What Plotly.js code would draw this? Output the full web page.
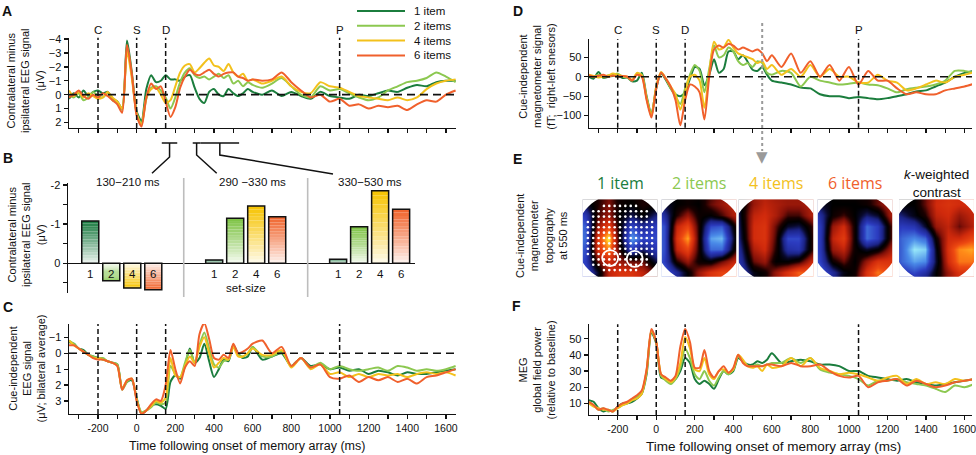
<!DOCTYPE html>
<html><head><meta charset="utf-8">
<script src="https://cdn.plot.ly/plotly-3.0.1.min.js"></script>
<style>html,body{margin:0;padding:0;background:#fff}#chart{width:976px;height:455px}</style>
</head><body><div id="chart"></div>
<script>
// ---------------- DATA ----------------
const timeMs = [-350,-325,-300,-275,-250,-225,-200,-175,-150,-125,-100,-75,
 -50,-25,0,25,50,75,100,125,150,175,200,225,
 250,275,300,325,350,375,400,425,450,475,500,525,
 550,575,600,650,700,750,800,850,900,950,1000,
 1050,1100,1150,1200,1250,1300,1350,1400,1450,1500,1550,1600,1650];

const seriesNames = ['1 item','2 items','4 items','6 items'];
const seriesColors = ['#1b7d3d','#8cc850','#f3c11c','#f0602c'];

// A: contralateral minus ipsilateral EEG (µV)
const latEEG1 = [0.3,-0.1,0.2,-0.3,0.1,-0.2,-0.3,-0.1,-0.2,0.3,0.5,1.0,
 -3.9,-1.6,1.2,1.9,-0.4,-1.4,-0.9,-1.0,-1.4,-1.1,-1.1,-1.0,
 -1.3,-1.4,-0.5,0.3,0.6,-0.2,-0.4,0.0,0.1,-0.4,-0.1,0.1,
 -0.1,-0.4,-0.2,0.0,-0.3,0.1,-0.2,0.1,0.3,-0.2,0.1,
 0.2,0.3,0.0,0.1,-0.1,-0.3,-0.2,-0.5,-0.7,-0.6,-0.9,-1.0,-1.0];
const latEEG2 = [0.0,0.2,-0.1,0.4,0.2,-0.2,0.1,0.2,-0.1,0.4,0.6,1.1,
 -3.5,-1.4,1.3,2.1,0.3,-0.5,-0.6,-0.3,0.2,1.0,0.2,-0.9,
 -1.6,-1.9,-1.4,-1.2,-1.3,-1.1,-1.3,-1.5,-1.2,-1.4,-0.8,-1.0,
 -0.6,-0.9,-0.7,-0.5,-0.8,-1.2,-0.6,0.0,0.2,-0.6,-0.3,
 -0.4,-0.1,0.2,0.4,0.2,-0.3,-0.6,-0.9,-1.0,-1.2,-1.6,-1.3,-0.9];
const latEEG4 = [-0.3,0.1,-0.2,0.2,-0.1,0.1,0.3,0.2,-0.2,0.2,0.5,1.0,
 -3.1,-1.2,1.4,2.2,0.2,-0.4,-0.5,0.0,0.6,0.4,-0.6,-1.6,
 -2.1,-2.2,-1.6,-1.9,-2.3,-2.6,-2.1,-2.0,-1.7,-2.2,-1.6,-1.3,
 -1.5,-1.0,-1.1,-0.8,-1.0,-1.3,-0.6,-0.2,-0.1,-0.9,-0.6,
 -0.5,-0.2,0.1,0.2,0.3,0.4,0.2,0.4,0.2,-0.4,-0.8,-1.0,-1.1];
const latEEG6 = [0.2,0.0,-0.3,0.1,0.3,0.0,0.2,-0.1,0.1,0.4,0.7,1.3,
 -3.6,-1.5,1.5,2.3,0.2,-0.8,-0.4,-0.6,0.5,1.6,0.9,-0.5,
 -1.3,-1.8,-1.5,-1.4,-1.6,-1.8,-1.5,-1.3,-1.5,-1.6,-1.6,-1.3,
 -1.2,-1.0,-1.1,-1.0,-1.1,-1.6,-0.9,-0.3,0.2,0.0,0.5,
 0.3,0.8,0.7,1.0,0.8,0.9,0.8,1.1,0.7,0.4,0.5,0.0,-0.3];

// C: cue-independent EEG (µV; bilateral average)
const bilatEEG1 = [-0.7,-0.6,-0.3,-0.2,0.1,0.2,0.3,0.4,0.5,0.6,0.7,2.2,
 1.8,1.7,2.8,3.8,3.6,3.3,3.2,3.3,3.5,1.8,1.4,1.6,
 0.8,-0.3,0.6,0.3,-0.6,0.5,1.5,1.0,0.4,0.5,-0.5,0.0,
 0.3,0.2,-0.4,0.4,0.2,0.0,0.8,0.3,0.8,0.7,1.0,
 0.9,1.1,1.0,1.3,1.1,1.2,1.4,1.2,1.3,1.3,1.2,1.1,1.0];
const bilatEEG2 = [-0.8,-0.6,-0.3,-0.1,0.1,0.2,0.3,0.3,0.5,0.6,0.7,2.3,
 1.8,1.6,2.9,3.7,3.6,3.4,3.1,3.2,3.1,0.8,1.3,1.5,
 0.6,-0.2,0.6,-0.5,-1.3,-0.3,0.7,0.9,0.5,0.4,-0.5,0.1,
 0.2,0.0,-0.4,0.2,0.2,-0.1,0.8,0.3,0.9,0.6,1.0,
 0.8,1.0,1.1,1.0,0.9,1.1,0.8,0.9,1.1,1.0,1.1,1.0,0.8];
const bilatEEG4 = [-0.8,-0.5,-0.3,-0.1,0.1,0.3,0.3,0.4,0.5,0.6,0.8,2.2,
 1.7,1.6,2.9,3.8,3.6,3.3,3.0,3.1,2.8,0.3,1.4,1.5,
 0.8,0.2,0.6,-0.4,-1.0,0.0,0.9,0.6,0.3,0.4,-0.4,0.2,
 0.2,0.0,-0.3,0.1,0.1,-0.2,0.9,0.3,1.0,0.7,1.3,
 1.2,1.5,1.3,1.5,1.3,1.4,1.3,1.5,1.3,1.2,1.3,1.2,1.4];
const bilatEEG6 = [-0.5,-0.5,-0.3,-0.1,0.1,0.3,0.4,0.4,0.5,0.6,0.8,2.3,
 1.7,1.6,3.0,3.8,3.6,3.2,2.9,3.0,2.0,-0.2,1.0,1.9,
 0.9,0.5,0.8,-1.2,-1.9,-0.9,0.3,0.4,0.1,0.3,-0.6,0.0,
 -0.1,-0.3,-0.6,-0.8,0.0,-0.4,0.8,0.3,0.9,0.7,1.5,
 1.6,1.4,1.8,1.5,1.7,1.5,1.8,1.6,1.9,1.5,1.4,1.2,1.0];

// D: cue-independent magnetometer signal (fT; right-left sensors)
const megDiff1 = [0,-5,12,-3,0,2,3,-3,-2,-12,-10,10,
 -50,-95,-30,8,-8,-30,-45,-50,-40,-5,25,20,
 -22,5,45,10,20,65,65,45,55,38,18,15,
 25,5,-10,-15,-20,-28,-30,-45,-50,-50,-55,
 -52,-55,-58,-55,-50,-45,-38,-35,-25,-15,0,10,15];
const megDiff2 = [2,0,5,-2,3,5,8,0,-2,-10,8,5,
 -55,-100,-25,10,-5,-30,-50,-70,-30,5,30,15,
 -40,20,80,50,55,75,65,40,30,35,25,40,
 35,10,5,15,10,-25,0,-10,-15,-20,-18,
 -15,-20,-22,-30,-40,-32,-28,-25,-20,-10,15,15,10];
const megDiff4 = [5,2,-2,0,3,8,5,2,0,-8,10,3,
 -55,-100,-25,12,-5,-25,-45,-85,-40,0,5,-10,
 -80,10,90,70,75,95,75,60,55,50,45,35,
 40,20,30,5,20,0,30,0,20,0,0,
 -15,-15,5,-10,-15,-35,-30,-20,-10,-15,0,5,12];
const megDiff6 = [3,0,2,5,0,3,0,2,0,-10,5,0,
 -60,-105,-30,10,-5,-25,-60,-125,-60,-20,-25,-40,
 -110,0,70,80,75,85,80,70,75,70,65,70,
 60,40,55,25,60,10,40,0,30,-10,25,
 -20,15,-10,-10,-30,-45,-40,-45,-45,-35,-30,-25,-18];

// F: MEG global field power (relative to baseline)
const megGFP1 = [12,11,7,5,6,5,8,10,10,11,13,16,
 28,54,47,26,25,23,25,30,38,35,25,22,
 24,22,19,25,30,28,30,38,36,34,34,36,
 35,37,41,35,36,37,36,34,34,33,30,
 30,27,26,25,24,25,23,22,21,22,23,24,25];
const megGFP2 = [11,9,6,7,5,6,7,9,10,12,14,17,
 30,55,48,27,24,22,25,32,44,38,28,25,
 30,24,21,26,30,28,31,39,36,33,33,34,
 33,34,35,35,38,35,38,31,29,28,27,
 25,21,24,24,25,23,22,21,19,17,21,20,22];
const megGFP4 = [10,8,7,6,6,5,7,9,10,12,13,16,
 30,55,48,28,25,23,26,35,51,44,31,30,
 38,28,25,30,31,29,31,40,37,33,32,33,
 30,34,32,33,38,33,38,32,30,28,29,
 28,26,24,26,27,22,25,22,23,22,25,24,25];
const megGFP6 = [11,9,6,7,6,5,8,10,11,13,15,18,
 31,56,48,28,26,24,27,45,56,48,32,32,
 43,30,26,30,33,29,32,40,35,33,33,33,
 33,34,34,33,35,33,33,34,30,27,26,
 27,20,23,24,25,21,24,22,20,21,23,24,25];

// Event markers (ms): cue, sample, delay, probe
const eventTimes = [-200, 0, 150, 1050];
const eventLabels = ['C','S','D','P'];

// B: mean lateralised amplitude per window and set size
const setSizes = ['1','2','4','6'];
const windowLabels = ['130\u2212210 ms','290 \u2212330 ms','330\u2212530 ms'];
const windowRanges = [[130,210],[290,330],[330,530]];
const barWin1 = [-1.08, 0.45, 0.63, 0.68];
const barWin2 = [-0.08, -1.15, -1.46, -1.19];
const barWin3 = [-0.10, -0.93, -1.85, -1.38];
const barColors = ['#1a7a40','#7cc242','#f6c300','#f0622a'];

// E: topographies at 550 ms (rows bottom->top, cols left->right)
const topoCoords = [-1.02,-0.765,-0.51,-0.255,0,0.255,0.51,0.765,1.02];
const topo1 = [
 [-0.4,-0.4,0.0,0.4,0.5,0.5,0.4,0.2,0.1],
 [-0.5,-0.5,-0.1,0.4,0.5,0.5,0.4,0.2,0.0],
 [-0.6,-0.45,0.2,0.45,0.3,0.2,0.2,-0.1,-0.3],
 [-0.7,-0.5,0.5,0.8,0.1,-0.45,-0.2,-0.4,-0.5],
 [-0.7,-0.6,0.55,1.0,0.0,-0.75,-0.5,-0.5,-0.5],
 [-0.7,-0.55,0.3,0.6,0.0,-0.5,-0.3,-0.45,-0.5],
 [-0.6,-0.4,0.15,0.3,0.0,-0.15,0.0,-0.2,-0.3],
 [-0.3,-0.1,0.1,0.25,0.05,0.0,0.1,0.05,0.0],
 [0.0,0.0,0.1,0.2,0.05,0.05,0.1,0.1,0.1]];
const topo2 = [
 [-0.5,-0.5,-0.3,0.0,0.3,0.5,0.6,0.6,0.5],
 [-0.6,-0.6,-0.3,0.0,0.3,0.5,0.6,0.6,0.5],
 [-0.7,-0.45,0.1,0.3,0.05,0.0,0.2,0.4,0.5],
 [-0.7,-0.5,0.4,0.6,0.1,-0.6,-0.6,0.0,0.5],
 [-0.7,-0.5,0.5,0.85,0.1,-0.75,-0.8,-0.1,0.5],
 [-0.7,-0.5,0.4,0.6,0.1,-0.5,-0.55,0.0,0.5],
 [-0.7,-0.3,0.1,0.3,0.05,0.0,0.15,0.35,0.5],
 [-0.5,-0.1,0.0,0.05,0.0,0.2,0.3,0.4,0.4],
 [-0.2,0.0,0.0,0.05,0.05,0.15,0.25,0.3,0.3]];
const topo4 = [
 [-0.5,-0.4,-0.1,0.05,0.3,0.5,0.6,0.6,0.5],
 [-0.6,-0.4,-0.05,0.05,0.3,0.5,0.7,0.65,0.6],
 [-0.6,-0.3,0.2,0.3,0.0,0.0,0.1,0.4,0.55],
 [-0.6,-0.2,0.35,0.45,0.1,-0.35,-0.4,0.05,0.5],
 [-0.6,-0.1,0.45,0.5,0.15,-0.5,-0.5,0.05,0.45],
 [-0.6,-0.05,0.45,0.5,0.2,-0.1,-0.15,0.1,0.45],
 [-0.6,0.0,0.4,0.45,0.35,0.15,0.15,0.35,0.4],
 [-0.4,0.0,0.3,0.4,0.35,0.3,0.3,0.35,0.3],
 [-0.1,0.1,0.3,0.35,0.3,0.3,0.3,0.3,0.3]];
const topo6 = [
 [-0.5,-0.5,-0.3,0.0,0.1,0.5,0.6,0.6,0.5],
 [-0.6,-0.6,-0.3,-0.05,0.05,0.5,0.75,0.6,0.5],
 [-0.7,-0.45,0.05,0.2,0.0,0.3,0.5,0.5,0.5],
 [-0.7,-0.4,0.3,0.4,0.05,-0.1,0.0,0.3,0.5],
 [-0.7,-0.4,0.4,0.55,0.05,-0.6,-0.45,0.1,0.5],
 [-0.7,-0.4,0.3,0.45,0.05,-0.6,-0.45,0.1,0.5],
 [-0.7,-0.3,0.05,0.15,0.0,-0.2,-0.1,0.3,0.45],
 [-0.5,-0.1,0.0,0.0,0.0,0.05,0.2,0.35,0.4],
 [-0.2,0.0,0.0,0.05,0.05,0.1,0.2,0.3,0.3]];
const topoK = [
 [-0.2,-0.3,-0.3,-0.1,0.0,0.3,0.4,0.4,0.4],
 [-0.3,-0.4,-0.5,-0.35,0.0,0.3,0.5,0.5,0.5],
 [-0.4,-0.6,-0.75,-0.7,-0.1,0.45,0.75,0.75,0.6],
 [-0.4,-0.6,-0.9,-0.85,-0.05,0.5,0.8,0.85,0.7],
 [-0.4,-0.6,-0.7,-0.6,0.05,0.45,0.45,0.6,0.6],
 [-0.35,-0.45,-0.4,-0.1,0.3,0.4,0.2,0.35,0.5],
 [-0.3,-0.2,-0.05,0.1,0.4,0.45,0.3,0.4,0.45],
 [-0.2,0.0,0.0,0.2,0.45,0.5,0.45,0.45,0.4],
 [-0.1,0.0,0.0,0.2,0.4,0.45,0.45,0.4,0.4]];
const topoTitles = ['1 item','2 items','4 items','6 items','<i>k</i>-weighted<br>contrast'];
const topoTime = 550;
const sensorGrid = [-0.72,-0.6,-0.48,-0.36,-0.24,-0.12,0,0.12,0.24,0.36,0.48,0.6,0.72];
const roiX = [-0.22, 0.33];
const roiY = [-0.45, -0.47];

// ---------------- LAYOUT HELPERS ----------------
const W = 976, H = 455;
const FONT = 'Liberation Sans, Arial, Helvetica, sans-serif';
const px = p => p / W;
const py = p => 1 - p / H;
const leftX = [px(69), px(456)];
const rightX = [px(589), px(972)];

function lineAxis(domain, range, extra) {
  return Object.assign({
    domain: domain, range: range, showline: true, linecolor: '#111', linewidth: 1.4,
    ticks: 'outside', ticklen: 4, tickwidth: 1.3, tickcolor: '#111',
    showgrid: false, zeroline: false, fixedrange: true, ticklabeloverflow: 'allow',
    tickfont: {size: 11, color: '#111', family: FONT}
  }, extra || {});
}
const xTickFont = {size: 10.5, color: '#111', family: FONT};
const tickHundreds = [];
for (let t = -300; t <= 1600; t += 100) tickHundreds.push(t);
const tickText = tickHundreds.map(t => (t % 200 === 0 ? String(t) : ''));

const traces = [];
const shapes = [];
const annotations = [];

function addLines(xa, ya, arrays) {
  arrays.forEach((arr, i) => traces.push({
    type: 'scatter', mode: 'lines', x: timeMs, y: arr, xaxis: xa, yaxis: ya,
    line: {color: seriesColors[i], width: 2, shape: 'spline', smoothing: 0.7},
    hoverinfo: 'skip', showlegend: false
  }));
}
addLines('x', 'y', [latEEG1, latEEG2, latEEG4, latEEG6]);
addLines('x3', 'y3', [bilatEEG1, bilatEEG2, bilatEEG4, bilatEEG6]);
addLines('x4', 'y4', [megDiff1, megDiff2, megDiff4, megDiff6]);
addLines('x5', 'y5', [megGFP1, megGFP2, megGFP4, megGFP6]);

// event dashed lines
[['x','y'],['x3','y3'],['x4','y4'],['x5','y5']].forEach(([xa, ya]) => {
  eventTimes.forEach(t => shapes.push({type: 'line', xref: xa, yref: ya + ' domain', x0: t, x1: t, y0: 0, y1: 1,
    line: {color: '#111', width: 1.5, dash: '5px,3px'}}));
});
// zero dashed lines
[['x','y'],['x3','y3'],['x4','y4']].forEach(([xa, ya]) => {
  shapes.push({type: 'line', xref: xa + ' domain', yref: ya, x0: 0, x1: 1, y0: 0, y1: 0,
    line: {color: '#111', width: 1.6, dash: '8px,5px'}});
});
// event labels
[['x', 30], ['x4', 30.5]].forEach(([xa, yp]) => {
  eventTimes.forEach((t, i) => annotations.push({xref: xa, yref: 'paper', x: t, y: py(yp), text: eventLabels[i],
    showarrow: false, font: {size: 11.5, color: '#111', family: FONT}, xanchor: 'center', yanchor: 'middle'}));
});

// legend (panel A)
seriesNames.forEach((n, i) => {
  const yy = 11 + i * 14.8;
  shapes.push({type: 'line', xref: 'paper', yref: 'paper', x0: px(357), x1: px(405), y0: py(yy), y1: py(yy),
    line: {color: seriesColors[i], width: 2}});
  annotations.push({xref: 'paper', yref: 'paper', x: px(412), y: py(yy), text: n, showarrow: false,
    xanchor: 'left', yanchor: 'middle', font: {size: 11.5, color: '#111', family: FONT}});
});

// ---------------- B: gradient bars ----------------
const groupStep = 5.9;
const barX = [], barV = [], barC = [];
[barWin1, barWin2, barWin3].forEach((vals, g) => {
  vals.forEach((v, i) => { barX.push(g * groupStep + i); barV.push(v); barC.push(barColors[i]); });
});
function mix(hex, t) {
  const r = parseInt(hex.slice(1, 3), 16), gg = parseInt(hex.slice(3, 5), 16), b = parseInt(hex.slice(5, 7), 16);
  const f = c => Math.round(255 + (c - 255) * t);
  return 'rgb(' + f(r) + ',' + f(gg) + ',' + f(b) + ')';
}
const NSEG = 16;
for (let k = 0; k < NSEG; k++) {
  const t = 0.06 + 0.94 * Math.pow((k + 0.5) / NSEG, 0.9);
  traces.push({type: 'bar', x: barX, y: barV.map(v => v / NSEG), base: barV.map(v => v * k / NSEG),
    xaxis: 'x2', yaxis: 'y2', width: 0.81, marker: {color: barC.map(c => mix(c, t)), line: {width: 0}},
    hoverinfo: 'skip', showlegend: false});
}
traces.push({type: 'bar', x: barX, y: barV, base: barV.map(() => 0), xaxis: 'x2', yaxis: 'y2', width: 0.81,
  marker: {color: 'rgba(0,0,0,0)', line: {color: '#111', width: 1.5}}, hoverinfo: 'skip', showlegend: false});
barX.forEach((x, j) => annotations.push({xref: 'x2', yref: 'y2', x: x, y: 0, yshift: -3, text: setSizes[j % 4],
  showarrow: false, xanchor: 'center', yanchor: 'top', font: {size: 11.5, color: '#111', family: FONT}}));
windowLabels.forEach((w, g) => annotations.push({xref: 'x2', yref: 'paper', x: g * groupStep + 1.5 + (g < 2 ? 0.3 : 0),
  y: py(182.3), text: w, showarrow: false, xanchor: 'center', yanchor: 'middle', font: {size: 11.5, color: '#111', family: FONT}}));
annotations.push({xref: 'x2', yref: 'paper', x: groupStep + 1.5, y: py(288), text: 'set-size', showarrow: false,
  xanchor: 'center', yanchor: 'middle', font: {size: 11.5, color: '#111', family: FONT}});
[0, 1].forEach(g => {
  const xs = (g * groupStep + 3 + (g + 1) * groupStep) / 2;
  shapes.push({type: 'line', xref: 'x2', yref: 'paper', x0: xs, x1: xs, y0: py(178), y1: py(297),
    line: {color: '#bdbdbd', width: 1.6}});
});

// connectors from A windows to B titles
const connTargets = [[152, 173.3, 157], [216.7, 173.3, 155], [333, 174, 155]];
const tToPx = t => 136.7 + 0.1933 * t;
windowRanges.forEach(([t0, t1], i) => {
  const tm = (t0 + t1) / 2;
  const [tx, ty, vy] = connTargets[i];
  shapes.push({type: 'line', xref: 'x', yref: 'paper', x0: t0, x1: t1, y0: py(143), y1: py(143), line: {color: '#111', width: 1.5}});
  shapes.push({type: 'path', xref: 'paper', yref: 'paper',
    path: 'M' + px(tToPx(tm)) + ',' + py(143) + 'L' + px(tToPx(tm)) + ',' + py(vy) + 'L' + px(tx) + ',' + py(ty),
    line: {color: '#111', width: 1.5}});
});

// ---------------- E: topographies ----------------
const topoCenters = [620, 699, 776, 855, 936.5];
const topoCy = 238, topoR = 44.6, clipX = 0.84, clipY = 0.87;
const topoScale = [[0,'#e0ffff'],[0.06,'#90e0f8'],[0.15,'#4a8ae8'],[0.27,'#2c3cc0'],[0.38,'#1c2488'],[0.45,'#080828'],
  [0.5,'#000000'],[0.55,'#1a0000'],[0.62,'#801008'],[0.72,'#d02a0c'],[0.82,'#ee4a12'],[0.9,'#ff8a18'],[1,'#ffff40']];
const topoTitleColors = ['#1b7d3d','#8cc850','#f3c11c','#f0602c','#111'];
function maskPath() {
  const b = 1.3;
  let p = 'M' + (-b) + ',' + (-b) + 'L' + b + ',' + (-b) + 'L' + b + ',' + b + 'L' + (-b) + ',' + b + 'Z';
  const n = 72;
  for (let i = 0; i <= n; i++) {
    const a = -2 * Math.PI * i / n;
    p += (i === 0 ? 'M' : 'L') + Math.cos(a).toFixed(4) + ',' + Math.sin(a).toFixed(4);
  }
  return p + 'Z';
}
const topoAxes = {};
[topo1, topo2, topo4, topo6, topoK].forEach((z, k) => {
  const n = 6 + k;
  const cx = topoCenters[k];
  topoAxes['xaxis' + n] = {domain: [px(cx - clipX * topoR), px(cx + clipX * topoR)], range: [-clipX, clipX], visible: false, fixedrange: true, anchor: 'y' + n};
  topoAxes['yaxis' + n] = {domain: [py(topoCy + clipY * topoR), py(topoCy - clipY * topoR)], range: [-clipY, clipY], visible: false, fixedrange: true, anchor: 'x' + n};
  traces.push({type: 'heatmap', x: topoCoords, y: topoCoords, z: z, xaxis: 'x' + n, yaxis: 'y' + n,
    colorscale: topoScale, zmin: -1, zmax: 1, zsmooth: 'best', showscale: false, hoverinfo: 'skip'});
  shapes.push({type: 'path', xref: 'x' + n, yref: 'y' + n, path: maskPath(), fillcolor: '#ffffff', fillrule: 'evenodd',
    line: {width: 0}, layer: 'above'});
  const isK = k === 4;
  annotations.push({xref: 'paper', yref: 'paper', x: px(cx), y: py(isK ? 183.5 : 183.3), text: topoTitles[k], showarrow: false,
    xanchor: 'center', yanchor: 'middle',
    font: {size: isK ? 13.5 : 16, color: topoTitleColors[k], family: isK ? FONT : 'Open Sans, Noto Sans, sans-serif'}});
});
// sensors and regions of interest on first map
const sx = [], sy = [];
sensorGrid.forEach(x => sensorGrid.forEach(y => { if (x * x + y * y < 0.86 * 0.86) { sx.push(x); sy.push(y); } }));
traces.push({type: 'scatter', mode: 'markers', x: sx, y: sy, xaxis: 'x6', yaxis: 'y6',
  marker: {size: 2.6, color: '#ffffff'}, hoverinfo: 'skip', showlegend: false});
traces.push({type: 'scatter', mode: 'markers', x: roiX, y: roiY, xaxis: 'x6', yaxis: 'y6',
  marker: {size: 16, symbol: 'circle-open', color: '#ffffff', line: {width: 1.8, color: '#ffffff'}}, hoverinfo: 'skip', showlegend: false});

// dotted arrow from D to E
shapes.push({type: 'line', xref: 'x4', yref: 'paper', x0: topoTime, x1: topoTime, y0: py(23), y1: py(151),
  line: {color: '#9a9a9a', width: 2, dash: 'dot'}});
annotations.push({xref: 'x4', yref: 'paper', x: topoTime, y: py(156.5), text: '\u25BC', showarrow: false,
  xanchor: 'center', yanchor: 'middle', font: {size: 15, color: '#9a9a9a', family: 'DejaVu Sans'}});

// panel letters
[['A', 7, 10.5], ['B', 7.5, 158], ['C', 7.5, 306.5], ['D', 517.5, 10.5], ['E', 517, 158.5], ['F', 516, 306]].forEach(([l, x, y]) =>
  annotations.push({xref: 'paper', yref: 'paper', x: px(x), y: py(y), text: '<b>' + l + '</b>', showarrow: false,
    xanchor: 'center', yanchor: 'middle', font: {size: 14, color: '#111', family: FONT}}));

// y-axis titles (rotated)
[['Contralateral minus<br>ipsilateral EEG signal<br>(\u03bcV)', 25, 81],
 ['Contralateral minus<br>ipsilateral EEG signal<br>(\u03bcV)', 26, 235],
 ['Cue-independent<br>EEG signal<br>(\u03bcV; bilateral average)', 26.5, 369],
 ['Cue-independent<br>magnetometer signal<br>(fT;  right-left snesors)', 536.7, 77],
 ['Cue-independent<br>magnetometer<br>topography<br>at 550 ms', 541, 236],
 ['MEG<br>global field power<br>(relative to baseline)', 536.5, 370]].forEach(([t, x, y]) =>
  annotations.push({xref: 'paper', yref: 'paper', x: px(x), y: py(y), text: t, textangle: -90, showarrow: false,
    xanchor: 'center', yanchor: 'middle', font: {size: 11, color: '#111', family: FONT}}));

// x-axis titles
annotations.push({xref: 'paper', yref: 'paper', x: px(247), y: py(446), text: 'Time following onset of memory array (ms)',
  showarrow: false, xanchor: 'center', yanchor: 'middle', font: {size: 12.5, color: '#111', family: FONT}});
annotations.push({xref: 'paper', yref: 'paper', x: px(773), y: py(446), text: 'Time following onset of memory array (ms)',
  showarrow: false, xanchor: 'center', yanchor: 'middle', font: {size: 13.5, color: '#111', family: FONT}});

const layout = Object.assign({
  width: W, height: H, margin: {l: 0, r: 0, t: 0, b: 0}, paper_bgcolor: '#fff', plot_bgcolor: 'rgba(0,0,0,0)',
  font: {family: FONT, color: '#111'}, showlegend: false, barmode: 'overlay',
  xaxis: lineAxis(leftX, [-350, 1652], {anchor: 'y', tickvals: tickHundreds, showticklabels: false}),
  yaxis: lineAxis([py(128), py(37.7)], [2.4, -4.1], {anchor: 'x', tickvals: [-4,-3,-2,-1,0,1,2]}),
  xaxis2: {domain: [px(68), px(415)], range: [-1.06, 15.46], visible: false, fixedrange: true, anchor: 'y2'},
  yaxis2: lineAxis([py(293), py(183)], [0.76, -2.05], {anchor: 'x2', tickvals: [-2,-1.5,-1,-0.5,0,0.5],
    ticktext: ['-2','','-1','','0',''], zeroline: true, zerolinecolor: '#111', zerolinewidth: 1.5}),
  xaxis3: lineAxis(leftX, [-350, 1652], {anchor: 'y3', tickvals: tickHundreds, ticktext: tickText, tickfont: xTickFont}),
  yaxis3: lineAxis([py(414), py(324)], [3.82, -1.84], {anchor: 'x3', tickvals: [-1,0,1,2,3]}),
  xaxis4: lineAxis(rightX, [-349, 1639], {anchor: 'y4', tickvals: tickHundreds, showticklabels: false}),
  yaxis4: lineAxis([py(127.7), py(39)], [-131, 97], {anchor: 'x4', tickvals: [-100,-50,0,50]}),
  xaxis5: lineAxis(rightX, [-349, 1639], {anchor: 'y5', tickvals: tickHundreds, ticktext: tickText, tickfont: xTickFont}),
  yaxis5: lineAxis([py(415), py(324.3)], [2.8, 58.9], {anchor: 'x5', tickvals: [10,20,30,40,50]}),
  shapes: shapes, annotations: annotations
}, topoAxes);

Plotly.newPlot('chart', traces, layout, {displayModeBar: false, staticPlot: true});
</script></body></html>
